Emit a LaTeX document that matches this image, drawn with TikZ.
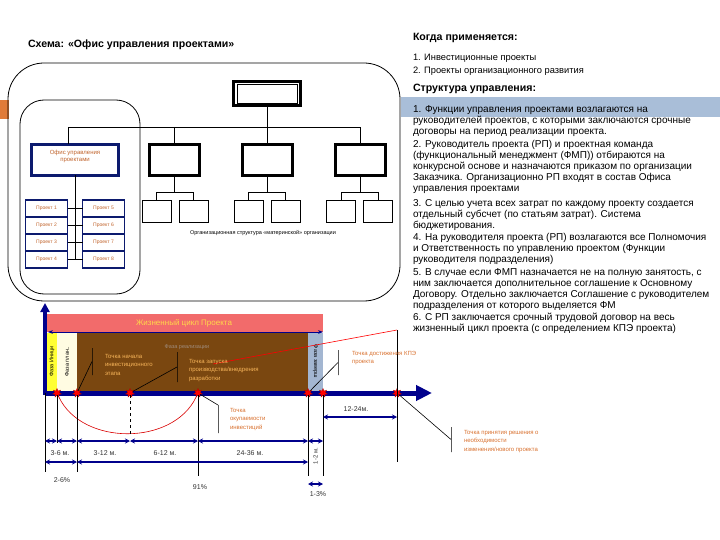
\documentclass[tikz,border=0pt]{standalone}
\usepackage{fontspec}
\setmainfont{Liberation Sans}
\usetikzlibrary{arrows.meta,shapes.geometric,positioning}
\definecolor{Navy}{HTML}{00008C}
\definecolor{OfficeBlue}{HTML}{0C1A6E}
\definecolor{ProjText}{HTML}{C0622A}
\definecolor{SlideOrange}{HTML}{E07B39}
\definecolor{BandBlue}{HTML}{A9BED8}
\definecolor{LifeRed}{HTML}{F26B6B}
\definecolor{LifeText}{HTML}{FFD84A}
\definecolor{PhaseBrown}{HTML}{7A4710}
\definecolor{PhaseYellow}{HTML}{FFFF33}
\definecolor{PhaseCream}{HTML}{FFFCE2}
\definecolor{PhaseBlue}{HTML}{A3B6D1}
\definecolor{NoteLight}{HTML}{F7B55A}
\definecolor{NoteDark}{HTML}{D8702E}
\definecolor{RealGray}{HTML}{A08C7C}
\definecolor{DimGray}{HTML}{333333}

\begin{document}
\begin{tikzpicture}[x=1pt,y=-1pt,
    every node/.style={inner sep=0pt,outer sep=0pt},
    para/.style={anchor=north west,align=left,font=\fontsize{10}{10.9}\selectfont},
    head/.style={anchor=west,font=\bfseries\fontsize{10.6}{12}\selectfont},
    dept/.style={draw=black,line width=3pt,minimum width=50pt,minimum height=31pt},
    subbox/.style={draw=black,line width=0.8pt,minimum width=29pt,minimum height=22pt},
    projbox/.style={draw=OfficeBlue,line width=1.1pt,minimum width=42pt,minimum height=17pt,
      text=ProjText,font=\fontsize{5}{6}\selectfont},
    orgline/.style={line width=0.9pt},
    strip/.style={rotate=90,minimum width=58pt,font=\fontsize{5.5}{6}\selectfont},
    marker/.style={star,star points=7,star point ratio=2,fill=red,draw=red!70!black,
      line width=0.3pt,minimum size=9pt},
    vline/.style={line width=0.7pt},
    dim/.style={Navy,line width=1.4pt,{Stealth[length=5pt,width=5pt]}-{Stealth[length=5pt,width=5pt]}},
    dimlbl/.style={text=DimGray,font=\fontsize{7}{8}\selectfont},
    tick/.style={draw,line width=0.8pt,minimum width=0pt,minimum height=#1},
    callout/.style={line width=0.6pt},
    note/.style={anchor=north west,align=left,font=\fontsize{6}{8.6}\selectfont}]
  \useasboundingbox (0,0) rectangle (720,540);

  % titles and right text
  \fill[SlideOrange] (0,100) rectangle (9,119);
  \fill[BandBlue] (401,97) rectangle (720,117);
  \node[head] (title) at (28,45) {Схема: «Офис управления проектами»};
  \node[head] (when) at (413,38) {Когда применяется:};
  \node[para,font=\fontsize{9.3}{12.5}\selectfont] (kinds) at (413,54.5) {1. Инвестиционные проекты\\2. Проекты организационного развития};
  \node[head] (struct) at (413,89) {Структура управления:};
  \node[para] (fn1) at (413,105.5) {1. Функции управления проектами  возлагаются на\\руководителей проектов, с которыми заключаются срочные\\договоры на период реализации проекта.};
  \node[para] (fn2) at (413,140.5) {2. Руководитель проекта (РП) и проектная команда\\(функциональный менеджмент (ФМП)) отбираются на\\конкурсной основе и  назначаются приказом по организации\\Заказчика.  Организационно РП входят в состав Офиса\\управления проектами};
  \node[para] (fn3) at (413,199.5) {3. С целью учета всех затрат по каждому проекту создается\\отдельный субсчет (по статьям затрат). Система\\бюджетирования.};
  \node[para] (fn4) at (413,233.5) {4. На руководителя проекта (РП) возлагаются все Полномочия\\и Ответственность по управлению проектом (Функции\\руководителя подразделения)};
  \node[para] (fn5) at (413,268.5) {5. В случае если ФМП назначается не на полную занятость, с\\ним заключается дополнительное соглашение к Основному\\Договору. Отдельно заключается Соглашение с руководителем\\подразделения от которого выделяется ФМ};
  \node[para] (fn6) at (413,313.5) {6. С РП заключается срочный трудовой договор на весь\\жизненный цикл проекта (с определением КПЭ проекта)};

  % org chart
  \draw[line width=0.8pt,rounded corners=36pt] (8,63) rectangle (400,301);
  \draw[line width=0.8pt,rounded corners=24pt] (20,100) rectangle (140,294);
  \node[draw=black,line width=3pt,minimum width=67pt,minimum height=24pt] (ceo) at (267,93.5) {};
  \node[draw=black,line width=0.8pt,minimum width=60pt,minimum height=19pt] (ceoin) at (267,93.5) {};
  \node[draw=OfficeBlue,line width=3pt,fill=white,minimum width=87pt,minimum height=31pt] (office) at (75,160) {};
  \node[below=6pt of office.north,align=center,text=ProjText,font=\fontsize{6}{7}\selectfont] (officelbl) {Офис управления\\проектами};
  \node[dept] (d1) at (174.5,160) {};
  \node[dept] (d2) at (267.5,160) {};
  \node[dept] (d3) at (360,160) {};
  \coordinate (busL) at (68,127);
  \coordinate (busR) at (360,127);
  \draw[orgline] (busL |- office.north) -- (busL) -- (busR) -- (d3.north);
  \draw[orgline] (ceo.south) -- (ceo.south |- busL);
  \draw[orgline] (d1.north |- busL) -- (d1.north);
  \draw[orgline] (d2.north |- busL) -- (d2.north);
  \foreach \d/\xa/\xb in {1/156.5/193.5,2/248.5/285.5,3/341/378}{
    \node[subbox] (d\d a) at (\xa,211) {};
    \node[subbox] (d\d b) at (\xb,211) {};
    \draw[orgline] (d\d.south) -- (d\d.south |- 0,192);
    \draw[orgline] (d\d a.north) |- (d\d b.north |- 0,192) -- (d\d b.north);
  }
  \node[font=\fontsize{5.5}{6}\selectfont] (orgcap) at (263,233) {Организационная структура «материнской» организации};
  \foreach \i/\yy in {1/208.5,2/225.5,3/242.5,4/259.5}{
    \pgfmathtruncatemacro\j{\i+4}
    \node[projbox] (p\i) at (46.5,\yy) {Проект \i};
    \node[projbox] (p\j) at (103.5,\yy) {Проект \j};
    \draw[orgline] (p\i.east) -- (p\j.west);
  }
  \draw[orgline] (office.south) -- (office.south |- p4);

  % project life cycle
  \node[fill=LifeRed,minimum width=278pt,minimum height=18pt,anchor=north west,
    text=LifeText,font=\fontsize{8}{9}\selectfont] (life) at (45,314) {Жизненный цикл Проекта};
  \node[fill=PhaseBrown,minimum width=231pt,minimum height=59pt,anchor=north west] (real) at (77,332) {};
  \node[strip,fill=PhaseYellow,minimum height=10pt] (init) at (52,361.5) {Фаза Иници};
  \node[strip,fill=PhaseCream,minimum height=20pt] (plan) at (67,361.5) {Фаза план..};
  \node[strip,rotate=180,fill=PhaseBlue,minimum height=15pt] (close) at (315.5,361.5) {Фаза заверш};
  \node[text=RealGray,font=\fontsize{5.5}{6}\selectfont] (reallbl) at (187,347) {Фаза реализации};
  \draw[Navy,line width=0.8pt,{Stealth[length=5pt]}-{Stealth[length=5pt]}] (life.south west) ++(3,0) -- (life.south east);

  \coordinate (origin) at (45,393);
  \draw[Navy,line width=4pt,-{Triangle[length=9pt,width=9pt]}] (45,395) -- (45,303);
  \draw[Navy,line width=5pt,-{Triangle[length=16pt,width=15pt]}] (origin) -- (432,393);
  \foreach \nm/\xx in {sInit/57,sPlan/77,sInv/130,sLaunch/198,sKpi/308,sEnd/323,sDecide/397}
    \node[marker] (\nm) at (\xx,393) {};

  % red curves
  \coordinate (redStart) at (213,364);
  \coordinate (kpiEnd) at (397,330);
  \draw[red,line width=0.6pt] (redStart) -- (kpiEnd);
  \draw[red!85!black,line width=0.6pt] (sInit) .. controls (82,446) and (173,446) .. (sLaunch);

  % verticals and dimensions
  \coordinate (rowA) at (0,441);
  \coordinate (rowB) at (0,462);
  \coordinate (rowC) at (0,484);
  \coordinate (rowD) at (0,417);
  \draw[vline] (origin) -- (origin |- 0,472);
  \draw[vline] (sInit) -- (sInit |- 0,443);
  \draw[vline] (sPlan) -- (sPlan |- 0,472);
  \draw[vline,dashed] (sInv) -- (sInv |- 0,435);
  \draw[vline] (sLaunch) -- (sLaunch |- 0,476);
  \draw[vline] (sKpi) -- (sKpi |- 0,476);
  \draw[vline] (sEnd) -- (sEnd |- 0,476);
  \draw[vline] (kpiEnd) -- (sDecide |- 0,462);
  \foreach \a/\b in {origin/sInit,sInit/sPlan,sPlan/sInv,sInv/sLaunch,sLaunch/sKpi,sKpi/sEnd}
    \draw[dim] (\a |- rowA) -- (\b |- rowA);
  \draw[dim] (origin |- rowB) -- (sPlan |- rowB);
  \draw[dim] (sPlan |- rowB) -- (sKpi |- rowB);
  \draw[dim] (sKpi |- rowC) -- (sEnd |- rowC);
  \draw[dim] (sEnd |- rowD) -- (sDecide |- rowD);
  \node[dimlbl] (m1) at (60,453) {3-6 м.};
  \node[dimlbl] (m2) at (105,453) {3-12 м.};
  \node[dimlbl] (m3) at (165,453) {6-12 м.};
  \node[dimlbl] (m4) at (250,453) {24-36 м.};
  \node[dimlbl,rotate=90,font=\fontsize{6}{7}\selectfont] (m5) at (315.5,456) {1-2 м.};
  \node[dimlbl] (m6) at (356,409) {12-24м.};
  \node[dimlbl] (c1) at (62,480) {2-6\%};
  \node[dimlbl] (c2) at (200,487) {91\%};
  \node[dimlbl] (c3) at (318,494) {1-3\%};

  % callouts
  \node[tick=27pt] (k1) at (92,361.5) {};
  \node[tick=30pt] (k2) at (177,367) {};
  \node[tick=28pt] (k3) at (218,419) {};
  \node[tick=25pt] (k4) at (338,362.5) {};
  \node[tick=25pt] (k5) at (451,439.5) {};
  \draw[callout] (sPlan) -- (k1.center);
  \draw[callout] (sInv) -- (k2.center);
  \draw[callout] (sLaunch) -- (k3.north);
  \draw[callout] (sKpi) -- (k4.center);
  \draw[callout] (sDecide) -- (k5.center);
  \node[note,text=NoteLight] (n1) at (105,354) {Точка начала\\инвестиционного\\этапа};
  \node[note,text=NoteLight] (n2) at (189,359) {Точка запуска\\производства/внедрения\\разработки};
  \node[note,text=NoteDark] (n3) at (230,408) {Точка\\окупаемости\\инвестиций};
  \node[note,text=NoteDark] (n4) at (352,351) {Точка достижения КПЭ\\проекта};
  \node[note,text=NoteDark] (n5) at (464,430) {Точка принятия решения о\\необходимости\\изменения/нового проекта};
\end{tikzpicture}
\end{document}
